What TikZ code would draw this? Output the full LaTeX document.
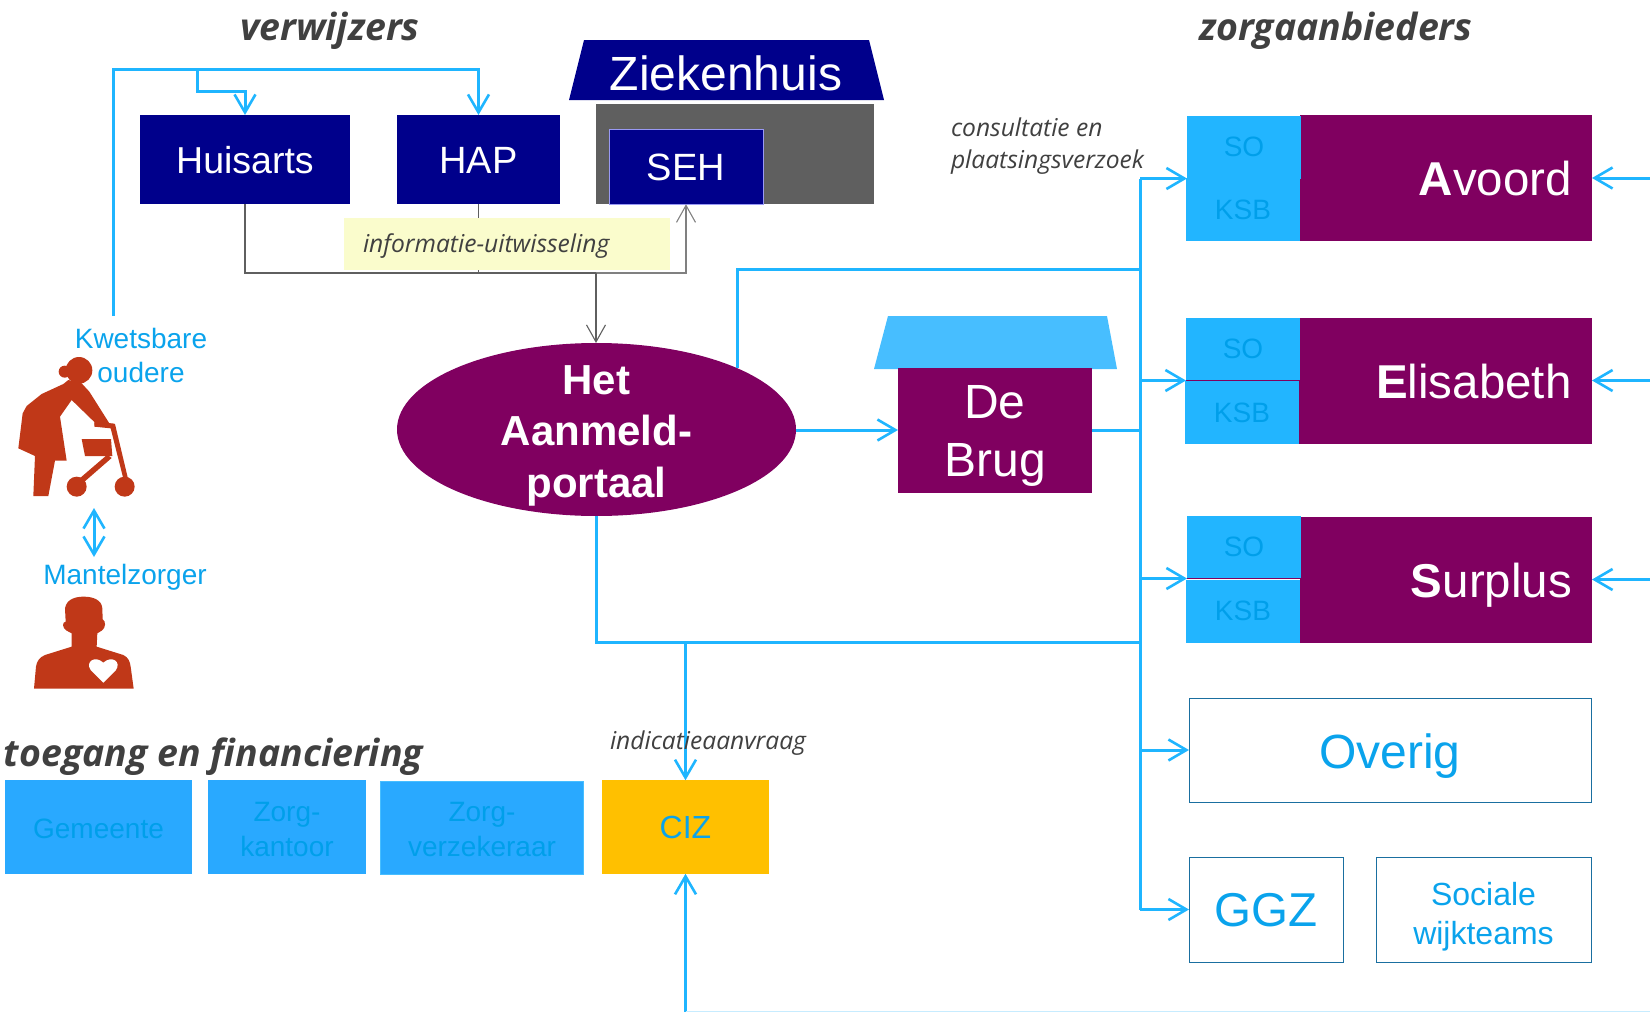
\documentclass[tikz,border=0pt]{standalone}
\usepackage{fontspec}
\usetikzlibrary{arrows.meta,shapes.geometric}
\setmainfont{Liberation Sans}
\newfontfamily\osans{Open Sans}
\newcommand{\fsz}[2]{\fontsize{#1}{#2}\selectfont}
\definecolor{lnblue}{HTML}{1FB5FF}
\definecolor{txblue}{HTML}{0AA3EC}
\definecolor{dimblue}{HTML}{009FEA}
\definecolor{cyanfill}{HTML}{22B5FF}
\definecolor{cyanfillb}{HTML}{29A9FF}
\definecolor{roofblue}{HTML}{47BEFF}
\definecolor{plum}{HTML}{800060}
\definecolor{navyb}{HTML}{00008B}
\definecolor{hospgrey}{HTML}{5F5F5F}
\definecolor{ciz}{HTML}{FFC000}
\definecolor{memo}{HTML}{FAFCCC}
\definecolor{inkgrey}{HTML}{404040}
\definecolor{rust}{HTML}{C03818}
\definecolor{boxedge}{HTML}{1A6FA0}
\tikzset{
  every node/.style={inner sep=0pt,outer sep=0pt},
  bx/.style args={#1x#2}{minimum width=#1pt,minimum height=#2pt,rectangle},
  navybox/.style={fill=navyb,text=white,align=center,font=\fsz{38}{40},text height=27pt,text depth=0pt},
  plumbox/.style={fill=plum,text=white,align=right,font=\fsz{47.5}{50},inner xsep=20pt,text width=252pt,text height=35pt,text depth=0pt},
  cyanbox/.style={fill=cyanfill,text=dimblue,font=\fsz{28}{30}},
  accbox/.style={fill=cyanfillb},
  acctext/.style={text=dimblue,align=center,font=\fsz{28}{35}},
  whitebox/.style={draw=boxedge,line width=1pt,fill=white},
  wtext/.style={text=txblue,align=center},
  head/.style={font=\osans\bfseries\itshape\fsz{37.5}{40},text=inkgrey},
  note/.style={font=\osans\itshape\fsz{24.6}{32},text=inkgrey,align=left},
  bluelab/.style={text=txblue,font=\fsz{28}{32}},
  bline/.style={draw=lnblue,line width=3pt},
  barr/.style={bline,-{Straight Barb[length=18pt,width=21pt,line width=2.6pt]}},
  barrr/.style={bline,{Straight Barb[length=18pt,width=21pt,line width=2.6pt]}-{Straight Barb[length=18pt,width=21pt,line width=2.6pt]}},
  gline/.style={draw=#1,line width=1.3pt},
  garr/.style={gline=#1,-{Straight Barb[length=17pt,width=19pt,line width=1.1pt]}},
}
\begin{document}
\begin{tikzpicture}[x=1pt,y=-1pt]
\useasboundingbox (0,0) rectangle (1650,1012);

% headings
\node[head,anchor=center] (hverw) at (330,31) {verwijzers};
\node[head,anchor=center] (hzorg) at (1336,31) {zorgaanbieders};
\node[head,anchor=west] (htoeg) at (4,757) {toegang en financiering};

% hospital
\path[fill=navyb] (584,40) -- (869,40) -- (884,100) -- (569,100) -- cycle;
\node[text=white,font=\fsz{48}{50}] (zkh) at (726,73) {Ziekenhuis};
\node[bx=278x100,fill=hospgrey] (grey) at (735,154) {};

% referrers
\node[bx=210x89,navybox,font=\fsz{37.5}{40}] (huisarts) at (245,159.5) {Huisarts};
\node[bx=163x89,navybox] (hap) at (478.5,159.5) {HAP};
\node[bx=154x74.5,navybox,draw=black!10!blue!40!white,line width=0.8pt] (seh) at (686,167) {SEH};

% portal
\node[ellipse,fill=plum,minimum width=399pt,minimum height=173pt] (portaal) at (596.5,429.5) {};
\node[text=white,align=center,font=\bfseries\fsz{42}{51.5}] (tport) at (596.5,435.5) {Het\\Aanmeld-\\portaal};

% De Brug
\path[fill=roofblue] (888,316) -- (1107,316) -- (1117,369) -- (874,369) -- cycle;
\node[bx=194x125,fill=plum] (brug) at (995,430) {};
\node[text=white,align=center,font=\fsz{48}{58}] (tbrug) at (995,436) {De\\Brug};

% providers
\node[bx=292x126,plumbox] (avoord) at (1446,178) {\textbf{A}voord};
\node[bx=293x126,plumbox] (elis) at (1445.5,380.5) {\textbf{E}lisabeth};
\node[bx=292x126,plumbox] (surp) at (1446,579.5) {\textbf{S}urplus};
\node[bx=114x63,cyanbox] (avso) at (1244,147) {SO};
\node[bx=114x63,cyanbox] (avksb) at (1243,209.5) {KSB};
\node[bx=114x63,cyanbox] (elso) at (1243,349) {SO};
\node[bx=114x63,cyanbox] (elksb) at (1242,412.5) {KSB};
\node[bx=114x63,cyanbox] (suso) at (1244,547) {SO};
\node[bx=114x63,cyanbox] (suksb) at (1243,611) {KSB};
\draw[plum,line width=0.8pt] (elso.south west) -- (elso.south east);
\draw[plum,line width=0.8pt] (suso.south west) -- (suso.south east);

\node[bx=402x104,whitebox,wtext,font=\fsz{48}{50},text height=36.6pt,text depth=0pt] (overig) at (1390,750) {Overig};
\node[bx=154x105,whitebox,wtext,font=\fsz{47.5}{50},text height=34.4pt,text depth=0pt] (ggz) at (1266,909.5) {GGZ};
\node[bx=215x105,whitebox] (soc) at (1483.5,910) {};
\node[wtext,font=\fsz{32}{39}] (tsoc) at (1483.5,917) {Sociale\\wijkteams};

% access and funding
\node[bx=187x93.5,accbox] (gem) at (98.5,827) {};
\node[acctext] (tgem) at (98.5,829) {Gemeente};
\node[bx=158x93.5,accbox] (zk) at (287,827) {};
\node[acctext] (tzk) at (287,829) {Zorg-\\kantoor};
\node[bx=203x93,accbox,draw=roofblue,line width=1pt] (zv) at (482,827.5) {};
\node[acctext] (tzv) at (482,829) {Zorg-\\verzekeraar};
\node[bx=167x93.5,fill=ciz,text=txblue,font=\fsz{32}{35},text height=23pt,text depth=0pt] (cizn) at (685.5,827) {CIZ};

% people labels
\node[bluelab] (lkw) at (141,338) {Kwetsbare};
\node[bluelab] (lou) at (141,372.5) {oudere};
\node[bluelab] (lma) at (125,577) {Mantelzorger};

% woman with walker
\begin{scope}[shift={(0,300)},x=0.33333pt,y=-0.33333pt]
  \fill[rust] (237,211) circle [radius=40];
  \fill[rust] (194,215) circle [radius=18];
  \fill[rust] (205,240) -- (245,250) -- (268,275) -- (328,370) -- (336,372) -- (285,380) -- (283,366) -- (215,300) -- (180,350) -- (200,482) -- (165,482) -- (145,588) -- (100,588) -- (105,468) -- (55,445) -- (68,340) -- (80,318) -- (125,282) -- (190,252) -- cycle;
  \fill[rust] (283,368) -- (338,370) -- (345,372) -- (385,540) -- (372,544) -- (332,385) -- (283,380) -- cycle;
  \fill[rust] (245,417) -- (333,417) -- (337,468) -- (255,468) -- cycle;
  \fill[rust] (322,464) -- (335,474) -- (250,548) -- (238,536) -- cycle;
  \fill[rust] (230,560) circle [radius=30];
  \fill[rust] (374,560) circle [radius=30];
  % carer
  \fill[rust] (197,965) -- (195,925) .. controls (200,895) and (230,890) .. (252,890) .. controls (280,890) and (305,900) .. (307,925) -- (308,958) .. controls (318,962) and (318,985) .. (305,992) -- (292,1000) -- (290,1040) -- (370,1065) .. controls (385,1072) and (390,1085) .. (392,1100) -- (401,1166) -- (102,1166) -- (108,1100) .. controls (110,1085) and (118,1072) .. (135,1065) -- (215,1040) -- (215,1000) -- (200,992) .. controls (186,985) and (186,965) .. (197,965) -- cycle;
  \fill[white] (310,1148) -- (272,1110) .. controls (255,1085) and (285,1065) .. (310,1088) .. controls (335,1065) and (365,1085) .. (348,1110) -- cycle;
\end{scope}

% coordinates
\coordinate (care1) at (94,508);
\coordinate (care2) at (94,557);
\coordinate (kwtop) at (113,316);
\coordinate (tcorner) at (113,69);
\coordinate (tbranch) at (197,69);
\coordinate (tdrop) at (197,91);
\coordinate (gbus) at (596,273);
\coordinate (busa) at (1140,178.5);
\coordinate (busb) at (1140,269);
\coordinate (busc) at (1140,380.5);
\coordinate (busd) at (1140,430);
\coordinate (buse) at (1140,578.5);
\coordinate (busf) at (1140,642);
\coordinate (busg) at (1140,750);
\coordinate (bush) at (1140,909.5);
\coordinate (cizt) at (685.5,642);
\coordinate (cizb) at (685.5,1012);
\coordinate (rightb) at (1650,1011.5);
\coordinate (ra) at (1650,178);
\coordinate (rb) at (1650,380.5);
\coordinate (rc) at (1650,579.5);
\coordinate (pe) at (796,430);

% grey connectors
\draw[gline=hospgrey] (huisarts.south) |- (gbus);
\draw[gline=hospgrey] (hap.south) |- (gbus);
\draw[garr=black!50] (gbus) -| (seh.south);
\draw[garr=hospgrey] (gbus) -- (gbus |- portaal.north);
\node[minimum width=326pt,minimum height=52pt,fill=memo,rectangle] (memo) at (507,244) {};
\node[note,anchor=west] (tinfo) at (363,246.5) {informatie-uitwisseling};

% blue connectors
\draw[barrr] (care1) -- (care2);
\draw[bline] (kwtop) -- (tcorner) -- (tbranch);
\draw[barr] (tbranch) -- (tbranch -| hap.north) -- (hap.north);
\draw[barr] (tbranch) -- (tdrop) -| (huisarts.north);
\draw[barr] (pe) -- (brug.west);
\draw[bline] (portaal.north east) |- (busb);
\draw[bline] (brug.east) -- (busd);
\draw[bline] (portaal.south) |- (busf);
\draw[bline] (busa) -- (bush);
\draw[barr] (busa) -- (avso.south west);
\draw[barr] (busc) -- (elso.south west);
\draw[barr] (buse) -- (suso.south west);
\draw[barr] (busg) -- (overig.west);
\draw[barr] (bush) -- (ggz.west);
\draw[barr] (ra) -- (avoord.east);
\draw[barr] (rb) -- (elis.east);
\draw[barr] (rc) -- (surp.east);
\draw[barr] (cizt) -- (cizn.north);
\draw[barr] (cizb) -- (cizn.south);
\draw[draw=lnblue!25,line width=1pt] (cizb |- rightb) -- (rightb);

% notes
\node[note,anchor=west] (tcons) at (951,146) {consultatie en\\plaatsingsverzoek};
\node[note,anchor=west] (tind) at (610,743) {indicatieaanvraag};
\end{tikzpicture}
\end{document}
